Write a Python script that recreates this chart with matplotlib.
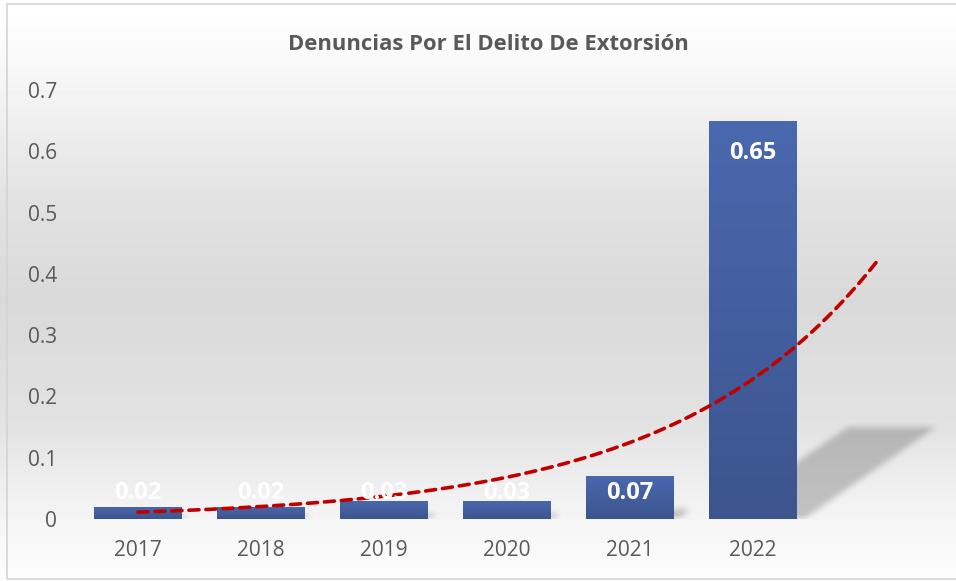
import numpy as np
import matplotlib.pyplot as plt
from matplotlib.patches import Rectangle
from matplotlib.path import Path

# data
years = ['2017', '2018', '2019', '2020', '2021', '2022']
values = [0.02, 0.02, 0.03, 0.03, 0.07, 0.65]
y_ticks = [0, 0.1, 0.2, 0.3, 0.4, 0.5, 0.6, 0.7]
title = 'Denuncias Por El Delito De Extorsión'

plt.rcParams['font.family'] = ['Open Sans', 'DejaVu Sans']
grey_txt = '#595959'

W, H = 956, 581
fig = plt.figure(figsize=(W / 100, H / 100), dpi=100)

# background gradient (light - grey - light)
bg = fig.add_axes([0, 0, 1, 1], zorder=-10)
bg.axis('off')
ys = np.array([0, 20, 90, 200, 300, 420, 520, 581])
cs = np.array([255, 254, 244, 226, 217, 226, 245, 253])
col = np.interp(np.arange(H), ys, cs) / 255.0
img = np.repeat(col[:, None], 2, axis=1)
bg.imshow(img, cmap='gray', vmin=0, vmax=1, aspect='auto', extent=[0, 1, 0, 1])
bg.set_xlim(0, 1)
bg.set_ylim(0, 1)
bg.add_patch(Rectangle((7 / W, 2 / H), 1.2, 1 - 6 / H, fill=False,
                       edgecolor='#d4d4d4', linewidth=1.2, transform=bg.transAxes))

# plot area
ax = fig.add_axes([76.5 / W, 62 / H, 861 / W, 429 / H])
ax.patch.set_alpha(0)
x = np.arange(len(years))
width = 0.715
xlim = (-0.5, len(years) + 0.5)
ylim = (0, 0.7)

# blurred perspective shadows behind the bars
nx, ny = 861, 429
gx = np.linspace(xlim[0], xlim[1], nx)
gy = np.linspace(ylim[0], ylim[1], ny)
GX, GY = np.meshgrid(gx, gy)
pts = np.column_stack([GX.ravel(), GY.ravel()])
mask = np.zeros(GX.shape)
for xi, v in zip(x, values):
    dx, dy = 1.74 * v, 0.23 * v
    poly = Path([(xi - width / 2, -0.004), (xi + width / 2 + 0.03, -0.004),
                 (xi + width / 2 + dx, dy), (xi - width / 2 + dx, dy)])
    mask = np.maximum(mask, poly.contains_points(pts).reshape(GX.shape))
k = np.ones(7) / 7
for _ in range(2):
    mask = np.apply_along_axis(lambda r: np.convolve(r, k, mode='same'), 1, mask)
    mask = np.apply_along_axis(lambda c: np.convolve(c, k, mode='same'), 0, mask)
shadow = np.zeros((ny, nx, 4))
shadow[..., :3] = 0.2
shadow[..., 3] = mask * 0.26
ax.imshow(shadow, origin='lower', extent=[xlim[0], xlim[1], ylim[0], ylim[1]],
          aspect='auto', zorder=1, interpolation='bilinear')

# bars with vertical gradient
top_c = np.array([0x4a, 0x68, 0xae]) / 255
bot_c = np.array([0x3c, 0x55, 0x8e]) / 255
grad = np.linspace(0, 1, 100)[:, None]
grad_img = (bot_c[None, None, :] * (1 - grad[..., None]) + top_c[None, None, :] * grad[..., None])
bars = ax.bar(x, values, width=width, color='none', zorder=2)
for b in bars:
    bx, by = b.get_x(), b.get_y()
    im = ax.imshow(grad_img, origin='lower', aspect='auto', zorder=2,
                   extent=[bx, bx + b.get_width(), by, by + b.get_height()])
    im.set_clip_path(b)

# exponential trendline, one period forward
coef = np.polyfit(x + 1, np.log(values), 1)
tx = np.linspace(0, len(years), 200)
ty = np.exp(coef[1]) * np.exp(coef[0] * (tx + 1))
ax.plot(tx, ty, color='#c00000', linewidth=2.6, linestyle=(0, (2.8, 1.9)),
        dash_capstyle='round', zorder=4)

# data labels
for xi, v in zip(x, values):
    ax.text(xi, max(v - 0.053, 0.043), f'{v:.2f}', ha='center', va='center',
            color='white', fontsize=17, fontweight='bold', zorder=5)

ax.set_xlim(*xlim)
ax.set_ylim(*ylim)
ax.set_xticks(x)
ax.set_xticklabels(years)
ax.set_yticks(y_ticks)
ax.set_yticklabels([f'{t:g}' for t in y_ticks])
ax.tick_params(axis='both', length=0, labelsize=15, colors=grey_txt)
ax.tick_params(axis='y', pad=14)
ax.tick_params(axis='x', pad=15)
for s in ax.spines.values():
    s.set_visible(False)

fig.text(488 / W, 1 - 44 / H, title, ha='center', va='center', fontsize=15.8,
         fontweight='bold', color=grey_txt)

fig.savefig('out.png', dpi=100)
